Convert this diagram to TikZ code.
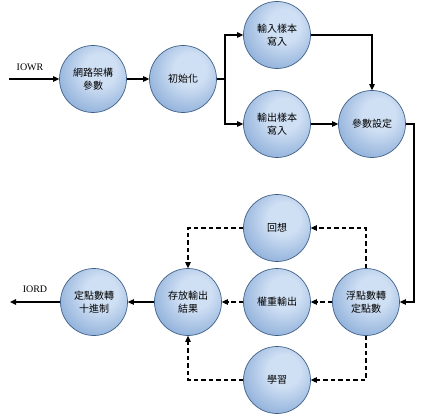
\documentclass[tikz,border=0pt]{standalone}
\usepackage{fontspec}
\setmainfont{Liberation Serif}
\newfontfamily\cjk{Noto Sans CJK TC}
\usetikzlibrary{arrows.meta}
\definecolor{ballout}{HTML}{5584C2}
\definecolor{ballin}{HTML}{D0E0F4}
\definecolor{ballrim}{HTML}{3E5F86}
\pgfdeclareradialshading{ballshade}{\pgfpoint{6bp}{8bp}}{color(0bp)=(ballin); color(12bp)=(ballin); color(52bp)=(ballout); color(100bp)=(ballout)}
\tikzset{
  fc/.style={circle, minimum size=67pt, inner sep=0pt, align=center,
             font=\cjk\fontsize{10}{13}\selectfont, draw=ballrim, line width=0.7pt,
             shading=ballshade},
  fc arr/.style={-{Triangle[length=6pt, width=5.5pt]}, line width=1.1pt},
  fc dash/.style={fc arr, dash pattern=on 4.5pt off 3pt},
  fc io/.style={font=\fontsize{10}{12}\selectfont, inner sep=0pt},
}

\begin{document}
\begin{tikzpicture}[x=1pt, y=-1pt]
  \useasboundingbox (0,0) rectangle (425,419);
  % top row: setup
  \node[fc] (a1) at (93,79)   {網路架構\\參數};
  \node[fc] (a2) at (183,79)  {初始化};
  \node[fc] (a3) at (277,35)  {輸入樣本\\寫入};
  \node[fc] (a4) at (277,124) {輸出樣本\\寫入};
  \node[fc] (a5) at (372,124) {參數設定};
  \coordinate (in) at (9,79);
  \coordinate (br) at (225,79);
  \coordinate (rt) at (414,124);
  \node[fc io] (iowr) at (30,67) {IOWR};
  \draw[fc arr] (in) -- (a1); \draw[fc arr] (a1) -- (a2);
  \draw[line width=1.1pt] (a2) -- (br);
  \draw[fc arr] (br) |- (a3); \draw[fc arr] (br) |- (a4);
  \draw[fc arr] (a3) -| (a5); \draw[fc arr] (a4) -- (a5);
  % bottom rows: run
  \node[fc] (b1) at (366,302) {浮點數轉\\定點數};
  \node[fc] (b2) at (277,302) {權重輸出};
  \node[fc] (b3) at (277,228) {回想};
  \node[fc] (b4) at (277,380) {學習};
  \node[fc] (b5) at (188,302) {存放輸出\\結果};
  \node[fc] (b6) at (94,302)  {定點數轉\\十進制};
  \coordinate (out) at (10,302);
  \node[fc io] (iord) at (35,289) {IORD};
  \draw[fc arr] (a5) -- (rt) |- (b1);
  \draw[fc dash] (b1) -- (b2); \draw[fc dash] (b1) |- (b3); \draw[fc dash] (b1) |- (b4);
  \draw[fc dash] (b2) -- (b5); \draw[fc dash] (b3) -| (b5); \draw[fc dash] (b4) -| (b5);
  \draw[fc arr] (b5) -- (b6); \draw[fc arr] (b6) -- (out);
\end{tikzpicture}
\end{document}
